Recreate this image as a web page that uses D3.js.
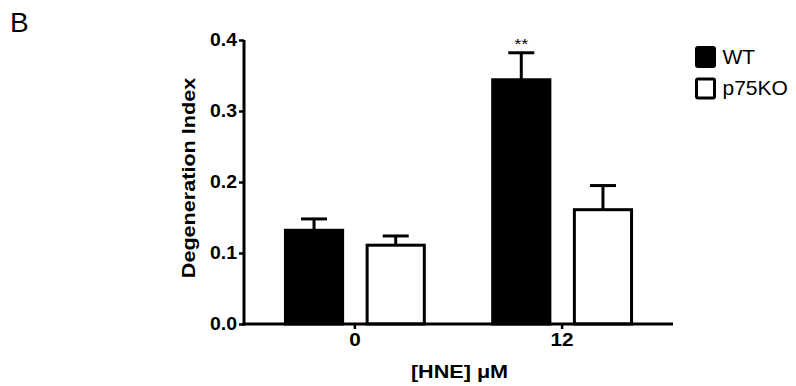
<!DOCTYPE html>
<html>
<head>
<meta charset="utf-8">
<script src="https://cdn.jsdelivr.net/npm/d3@7"></script>
<style>
body{margin:0;background:#fff}
svg{font-family:"Liberation Sans",Arial,sans-serif}
</style>
</head>
<body>
<svg width="796" height="386"></svg>
<script>
var doses = ["0","12"]
var groups = ["WT","p75KO"]
var wtMeans = [0.132,0.344]
var wtErr = [0.016,0.038]
var koMeans = [0.111,0.161]
var koErr = [0.013,0.034]
var yTicks = [0.0,0.1,0.2,0.3,0.4]
var fills = ["#000","#fff"]

var margins = {top:40,left:244,right:123,bottom:62}
var width = 796 - margins.left - margins.right
var height = 386 - margins.top - margins.bottom

var svg = d3.select("svg")

// the source figure is a bit wider than tall, so text gets stretched sideways
var stretch = function(sel,k)
{
    sel.each(function(){
        var len = this.getComputedTextLength()
        d3.select(this).attr("textLength",len*k).attr("lengthAdjust","spacingAndGlyphs")
    })
}

var rows = []
doses.forEach(function(d,i){
    rows.push({dose:d,group:"WT",mean:wtMeans[i],err:wtErr[i]})
    rows.push({dose:d,group:"p75KO",mean:koMeans[i],err:koErr[i]})
})

var xScale = d3.scaleBand().domain(doses).range([0,width]).paddingInner(0.33).paddingOuter(0.2)
var xSub = d3.scaleBand().domain(groups).range([0,xScale.bandwidth()]).paddingInner(0.3)
var yScale = d3.scaleLinear().domain([0,0.4]).range([height,0])

var g = svg.append("g").attr("transform","translate("+margins.left+","+margins.top+")")

// error bars (drawn under the bars)
g.selectAll(".err")
  .data(rows)
  .enter()
  .append("g")
  .attr("class","err")
  .each(function(r){
      var cx = xScale(r.dose)+xSub(r.group)+xSub.bandwidth()/2
      var s = d3.select(this)
      s.append("line").attr("x1",cx).attr("x2",cx)
       .attr("y1",yScale(r.mean)).attr("y2",yScale(r.mean+r.err))
       .attr("stroke","#000").attr("stroke-width",3)
      s.append("line").attr("x1",cx-13).attr("x2",cx+13)
       .attr("y1",yScale(r.mean+r.err)).attr("y2",yScale(r.mean+r.err))
       .attr("stroke","#000").attr("stroke-width",3)
  })

g.selectAll("rect.bar")
  .data(rows)
  .enter()
  .append("rect")
  .attr("class","bar")
  .attr("x",function(r){return xScale(r.dose)+xSub(r.group)})
  .attr("y",function(r){return yScale(r.mean)})
  .attr("width",xSub.bandwidth())
  .attr("height",function(r){return height-yScale(r.mean)})
  .attr("fill",function(r){return fills[groups.indexOf(r.group)]})
  .attr("stroke","#000")
  .attr("stroke-width",3)

// significance mark
var wt12 = rows[2]
g.append("text")
  .attr("x",xScale(wt12.dose)+xSub("WT")+xSub.bandwidth()/2)
  .attr("y",yScale(wt12.mean+wt12.err)-4)
  .attr("text-anchor","middle")
  .attr("font-size",14)
  .text("**")
  .call(stretch,1.3)

// axes
var yAxis = d3.axisLeft(yScale).tickValues(yTicks).tickFormat(d3.format(".1f")).tickSize(5).tickPadding(2)
var yG = g.append("g").call(yAxis)
yG.select(".domain").attr("stroke-width",3).attr("d","M0,"+(height+1.5)+"V0")
yG.selectAll(".tick line").attr("stroke-width",2.5)
yG.selectAll("text").attr("font-size",18).attr("font-weight","bold").attr("fill","#000")
  .attr("font-family","Liberation Sans, Arial, sans-serif")
  .call(stretch,1.08)

var xAxis = d3.axisBottom(xScale).tickSize(5).tickPadding(4)
var xG = g.append("g").attr("transform","translate(0,"+height+")").call(xAxis)
xG.select(".domain").attr("stroke-width",3).attr("d","M-1.5,0H"+width)
xG.selectAll(".tick line").attr("stroke-width",2.5)
xG.selectAll("text").attr("font-size",18).attr("font-weight","bold").attr("fill","#000")
  .attr("font-family","Liberation Sans, Arial, sans-serif")
  .call(stretch,1.15)

// axis titles
svg.append("text")
  .attr("transform","translate(195,"+(margins.top+height/2-4)+") rotate(-90)")
  .attr("text-anchor","middle")
  .attr("font-size",18).attr("font-weight","bold")
  .text("Degeneration Index")
  .call(stretch,1.2)

svg.append("text")
  .attr("x",margins.left+width/2+1)
  .attr("y",378)
  .attr("text-anchor","middle")
  .attr("font-size",18).attr("font-weight","bold")
  .text("[HNE] \u03bcM")
  .call(stretch,1.2)

svg.append("text").attr("x",10).attr("y",32).attr("font-size",28).text("B")

// legend
var leg = svg.append("g").attr("transform","translate(696.5,47.5)")
leg.selectAll("g")
  .data(groups)
  .enter()
  .append("g")
  .attr("transform",function(d,i){return "translate(0,"+(i*31.5)+")"})
  .each(function(d,i){
      var s = d3.select(this)
      s.append("rect").attr("width",18).attr("height",19).attr("rx",1.5)
       .attr("fill",fills[i]).attr("stroke","#000").attr("stroke-width",3)
      s.append("text").attr("x",26).attr("y",16).attr("font-size",21).text(d)
  })
</script>
</body>
</html>
